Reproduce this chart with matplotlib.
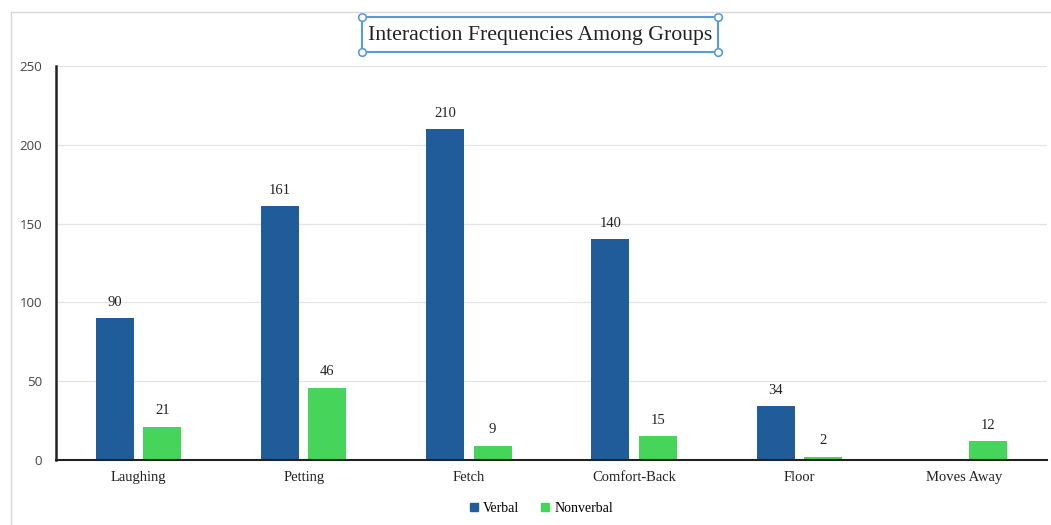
import numpy as np
import matplotlib.pyplot as plt
import matplotlib.patches as mpatches
from matplotlib.lines import Line2D

categories = ['Laughing', 'Petting', 'Fetch', 'Comfort-Back', 'Floor', 'Moves Away']
verbal = [90, 161, 210, 140, 34, 0]
nonverbal = [21, 46, 9, 15, 2, 12]
yticks = [0, 50, 100, 150, 200, 250]

c_verbal = '#1f5c99'
c_nonverbal = '#47d45a'
serif = 'Liberation Serif'

fig = plt.figure(figsize=(10.51, 5.25), dpi=100)
ax = fig.add_axes([56 / 1051, 1 - 460 / 525, 991 / 1051, 394 / 525])

x = np.arange(len(categories))
w = 0.23
off = 0.143
b1 = ax.bar(x - off, verbal, w, color=c_verbal, zorder=3)
b2 = ax.bar(x + off, nonverbal, w, color=c_nonverbal, zorder=3)

for bars, vals in ((b1, verbal), (b2, nonverbal)):
    for b, v in zip(bars, vals):
        if v == 0:
            continue
        ax.text(b.get_x() + b.get_width() / 2, v + 6, str(v), ha='center', va='bottom',
                fontsize=10.5, family=serif, color='#222222')

ax.set_xlim(-0.5, 5.5)
ax.set_ylim(0, 250)
ax.set_yticks(yticks)
ax.set_yticklabels([str(t) for t in yticks], family='Open Sans', fontsize=9.5, color='#444444')
ax.set_xticks(x)
ax.set_xticklabels(categories, family=serif, fontsize=10.5, color='#222222')
ax.tick_params(axis='both', length=0)
ax.tick_params(axis='y', pad=10)
ax.tick_params(axis='x', pad=8)
ax.grid(axis='y', color='#e3e3e3', linewidth=0.9, zorder=0)
for s in ('top', 'right'):
    ax.spines[s].set_visible(False)
ax.spines['left'].set_linewidth(1.8)
ax.spines['left'].set_color('#222222')
ax.spines['bottom'].set_linewidth(1.5)
ax.spines['bottom'].set_color('#222222')
ax.spines['left'].set_zorder(4)
ax.spines['bottom'].set_zorder(4)

handles = [Line2D([], [], marker='s', linestyle='', color=c_verbal, markersize=6),
           Line2D([], [], marker='s', linestyle='', color=c_nonverbal, markersize=6)]
fig.legend(handles, ['Verbal', 'Nonverbal'], loc='center', bbox_to_anchor=(540 / 1051, 1 - 508 / 525),
           ncol=2, frameon=False, prop={'family': serif, 'size': 10}, handletextpad=0.15,
           columnspacing=1.4, handlelength=1.0)

# title with selection box
fig.text(540 / 1051, 1 - 35.5 / 525, 'Interaction Frequencies Among Groups', ha='center', va='center',
         fontsize=15.7, family=serif, color='#222222')
bx0, bx1 = 362 / 1051, 718 / 1051
by0, by1 = 1 - 52 / 525, 1 - 17 / 525
fig.patches.append(mpatches.Rectangle((bx0, by0), bx1 - bx0, by1 - by0, transform=fig.transFigure,
                                      fill=False, edgecolor='#5b9bd5', linewidth=1.5))
for cx in (bx0, bx1):
    for cy in (by0, by1):
        fig.lines.append(Line2D([cx], [cy], marker='o', markersize=5.5, markerfacecolor='white',
                                markeredgecolor='#5b9bd5', markeredgewidth=1.2, transform=fig.transFigure))

# outer light border
fig.lines.append(Line2D([11 / 1051, 11 / 1051], [0, 1 - 12 / 525], color='#d9d9d9', linewidth=1,
                        transform=fig.transFigure))
fig.lines.append(Line2D([11 / 1051, 1], [1 - 12 / 525, 1 - 12 / 525], color='#d9d9d9', linewidth=1,
                        transform=fig.transFigure))

plt.savefig('out.png', dpi=100)
